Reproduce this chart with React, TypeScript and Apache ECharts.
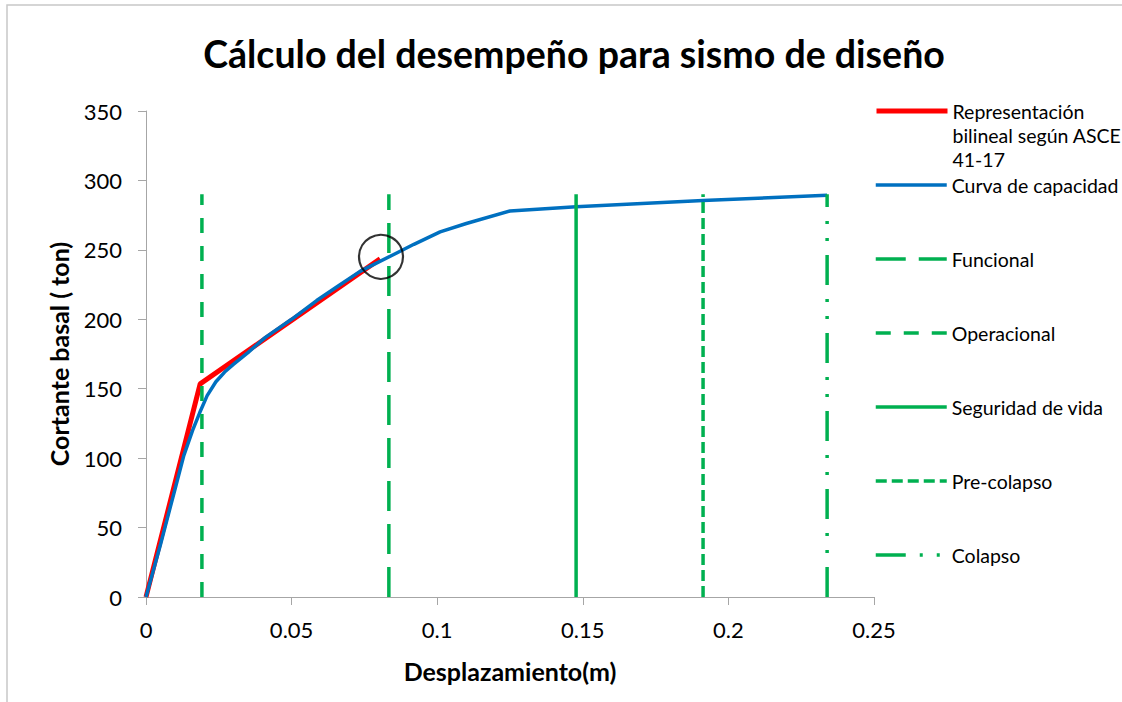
import React, { useEffect, useRef } from "react";
import * as echarts from "echarts";

// ---- Data ----
const titleText = "Cálculo del desempeño para sismo de diseño";
const xAxisName = "Desplazamiento(m)";
const yAxisName = "Cortante basal ( ton)";

const bilinearName = "Representación bilineal según ASCE 41-17";
const bilinearLabel = ["Representación", "bilineal según ASCE", "41-17"];
const bilinearDisp = [0, 0.0186, 0.0804];
const bilinearShear = [0, 153.5, 243.5];

const capacityName = "Curva de capacidad";
const capacityDisp = [0, 0.005, 0.01, 0.013, 0.016, 0.0185, 0.021, 0.024, 0.027, 0.03, 0.035, 0.041, 0.05, 0.0586, 0.066, 0.0735, 0.0849, 0.092, 0.101, 0.11, 0.125, 0.1477, 0.1913, 0.2339];
const capacityShear = [0, 38, 78, 102, 120, 133, 145, 155, 162, 167.5, 176, 187, 200, 213.5, 224, 234.5, 246.5, 254, 263, 269, 278, 281, 285.5, 289.3];

const levelNames = ["Funcional", "Operacional", "Seguridad de vida", "Pre-colapso", "Colapso"];
const levelDisp = [0.0834, 0.0192, 0.1477, 0.1913, 0.2339];
const levelTop = 290;

const markDisp = [0.0807];
const markShear = [245];

const xTicks = { min: 0, max: 0.25, interval: 0.05 };
const yTicks = { min: 0, max: 350, interval: 50 };

// ---- Styles ----
const FONT = "Lato, 'Noto Sans', sans-serif";
const GREEN = "#00B050";
const levelDashes: (number[] | "solid")[] = [
  [30, 13],
  [15, 13],
  "solid",
  [11, 5],
  [30, 14, 3, 14, 3, 14],
];

export default function App() {
  const ref = useRef<HTMLDivElement>(null);

  useEffect(() => {
    if (!ref.current) return;
    const chart = echarts.init(ref.current, undefined, { renderer: "svg" });

    const pairs = (xs: number[], ys: number[]) => xs.map((x, i) => [x, ys[i]]);

    const series: any[] = [
      {
        name: bilinearName,
        type: "line",
        data: pairs(bilinearDisp, bilinearShear),
        symbol: "none",
        lineStyle: { color: "#FF0000", width: 5 },
        itemStyle: { color: "#FF0000" },
        z: 2,
      },
      {
        name: capacityName,
        type: "line",
        data: pairs(capacityDisp, capacityShear),
        symbol: "none",
        lineStyle: { color: "#0070C0", width: 3.5 },
        itemStyle: { color: "#0070C0" },
        z: 3,
      },
      ...levelNames.map((name, i) => ({
        name,
        type: "line",
        data: [
          [levelDisp[i], 0],
          [levelDisp[i], levelTop],
        ],
        symbol: "none",
        lineStyle: { color: GREEN, width: 3.5, type: levelDashes[i] },
        itemStyle: { color: GREEN },
        z: 4,
      })),
      {
        name: "marker",
        type: "scatter",
        data: pairs(markDisp, markShear),
        symbol: "circle",
        symbolSize: 44,
        itemStyle: { color: "rgba(0,0,0,0)", borderColor: "#000", borderWidth: 2.2 },
        z: 5,
      },
    ];

    const allNames = [bilinearName, capacityName, ...levelNames];
    const firstCenter = 111;
    const legendStep = 74;
    const itemH = 24;
    const lineH = 24;
    const legends = allNames.map((name, i) => {
      const isFirst = i === 0;
      return {
        data: [name],
        orient: "vertical",
        left: 874,
        top: isFirst ? firstCenter - (lineH * 5) / 2 : firstCenter + i * legendStep - itemH / 2,
        padding: 0,
        itemWidth: 71,
        itemHeight: itemH,
        itemGap: 0,
        selectedMode: false,
        lineStyle: { width: "inherit" },
        itemStyle: { opacity: 0 },
        formatter: isFirst ? () => "\n\n" + bilinearLabel.join("\n") : undefined,
        textStyle: { fontFamily: FONT, fontSize: 19.5, color: "#000", lineHeight: lineH },
      };
    });

    chart.setOption({
      animation: false,
      backgroundColor: "#fff",
      title: {
        text: titleText,
        left: 569,
        top: 29,
        textAlign: "center",
        textStyle: { fontFamily: FONT, fontSize: 37.5, fontWeight: "bold", color: "#000" },
      },
      graphic: [
        {
          type: "rect",
          shape: { x: 7, y: 5, width: 1300, height: 900 },
          style: { fill: "none", stroke: "#C8C8C8", lineWidth: 1.5 },
          silent: true,
        },
      ],
      legend: legends,
      grid: { left: 146, right: 248, top: 111, bottom: 105, containLabel: false },
      xAxis: {
        type: "value",
        min: xTicks.min,
        max: xTicks.max,
        interval: xTicks.interval,
        name: xAxisName,
        nameLocation: "middle",
        nameGap: 61,
        nameTextStyle: { fontFamily: FONT, fontSize: 25, fontWeight: "bold", color: "#000" },
        axisLine: { show: true, lineStyle: { color: "#A6A6A6", width: 1 } },
        axisTick: { show: true, length: 8, lineStyle: { color: "#A6A6A6" } },
        axisLabel: { fontFamily: FONT, fontSize: 22, color: "#000", margin: 21 },
        splitLine: { show: false },
      },
      yAxis: {
        type: "value",
        min: yTicks.min,
        max: yTicks.max,
        interval: yTicks.interval,
        name: yAxisName,
        nameLocation: "middle",
        nameGap: 75,
        nameTextStyle: { fontFamily: FONT, fontSize: 25, fontWeight: "bold", color: "#000" },
        axisLine: { show: true, lineStyle: { color: "#A6A6A6", width: 1 } },
        axisTick: { show: true, length: 8, lineStyle: { color: "#A6A6A6" } },
        axisLabel: { fontFamily: FONT, fontSize: 22, color: "#000", margin: 24 },
        splitLine: { show: false },
      },
      series,
    });

    return () => chart.dispose();
  }, []);

  return (
    <div
      ref={ref}
      style={{ position: "fixed", left: 0, top: 0, width: 1122, height: 702, background: "#fff" }}
    />
  );
}
